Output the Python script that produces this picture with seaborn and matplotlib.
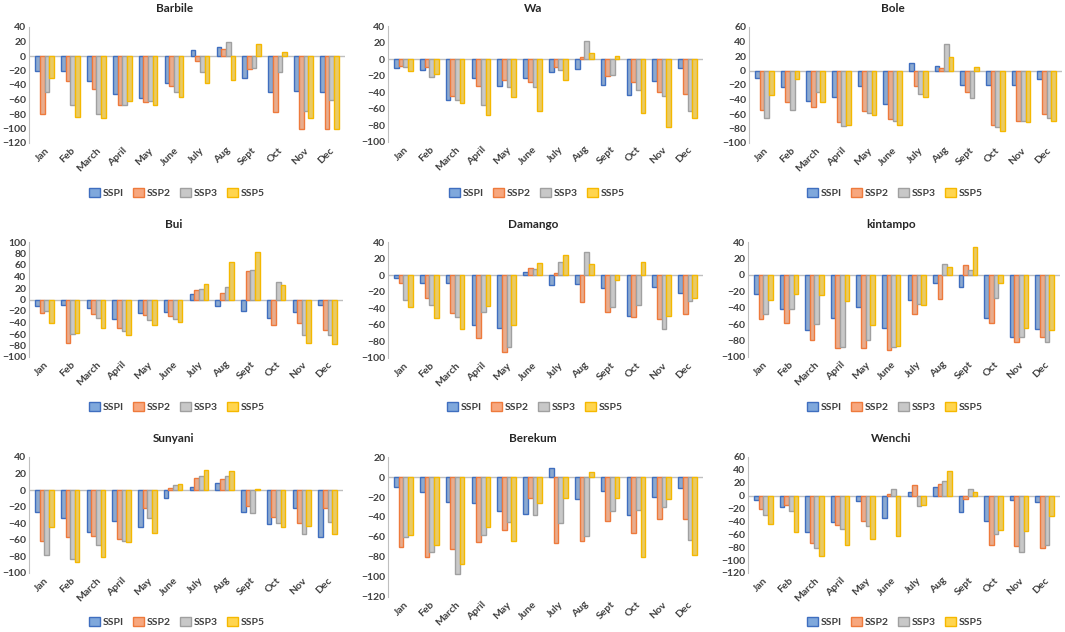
import pandas as pd
import seaborn as sns
import matplotlib.pyplot as plt
from matplotlib.patches import Patch

months = ["Jan", "Feb", "March", "April", "May", "June", "July", "Aug", "Sept", "Oct", "Nov", "Dec"]
scenarios = ["SSPI", "SSP2", "SSP3", "SSP5"]

# one row per scenario (SSPI, SSP2, SSP3, SSP5), 12 months each
barbile = [
    [-20, -20, -34, -52, -58, -37, 8, 12, -30, -50, -48, -50],
    [-80, -35, -45, -68, -64, -41, -7, 9, -18, -77, -100, -100],
    [-50, -68, -80, -68, -62, -50, -22, 20, -16, -22, -76, -60],
    [-30, -84, -85, -62, -67, -57, -37, -33, 17, 5, -86, -100],
]
wa = [
    [-11, -13, -49, -23, -32, -23, -15, -12, -31, -43, -26, -11],
    [-8, -10, -45, -32, -25, -28, -10, 3, -20, -28, -40, -42],
    [-10, -21, -49, -55, -34, -34, -13, 22, -19, -37, -44, -62],
    [-14, -18, -53, -67, -46, -62, -25, 8, 4, -65, -82, -71],
]
bole = [
    [-10, -23, -42, -37, -22, -46, 11, 6, -20, -20, -20, -12],
    [-55, -44, -51, -71, -56, -67, -22, 3, -30, -75, -70, -60],
    [-65, -55, -29, -77, -58, -69, -33, 36, -38, -78, -69, -65],
    [-34, -12, -43, -75, -62, -75, -37, 18, 5, -83, -71, -70],
]
bui = [
    [-11, -9, -14, -34, -23, -22, 9, -12, -20, -32, -21, -10],
    [-24, -75, -26, -50, -27, -28, 16, 12, 49, -45, -40, -53],
    [-20, -60, -32, -54, -36, -34, 18, 22, 51, 30, -61, -62],
    [-41, -58, -50, -62, -44, -39, 27, 65, 82, 26, -75, -77],
]
damango = [
    [-4, -10, -10, -60, -64, 4, -12, -11, -16, -49, -14, -21],
    [-10, -28, -46, -76, -93, 9, 3, -32, -44, -50, -53, -47],
    [-30, -36, -51, -45, -87, 8, 16, 28, -38, -36, -65, -31],
    [-38, -52, -65, -37, -60, 15, 24, 13, -6, 16, -49, -27],
]
kintampo = [
    [-23, -41, -67, -52, -39, -65, -30, -10, -15, -52, -76, -66],
    [-54, -59, -79, -89, -89, -91, -48, -29, 12, -59, -82, -76],
    [-48, -42, -60, -88, -79, -88, -36, 13, 6, -28, -76, -82],
    [-31, -23, -25, -32, -61, -86, -37, 10, 34, -10, -65, -67],
]
sunyani = [
    [-26, -34, -50, -37, -44, -9, 4, 9, -26, -41, -22, -56],
    [-61, -56, -55, -59, -22, 3, 15, 13, -19, -32, -40, -21],
    [-78, -83, -66, -61, -34, 6, 17, 17, -27, -40, -53, -39],
    [-45, -87, -81, -62, -52, 7, 24, 23, 1, -45, -43, -53],
]
berekum = [
    [-10, -15, -25, -26, -34, -37, 9, -22, -14, -38, -20, -11],
    [-70, -80, -72, -65, -53, -21, -66, -64, -44, -56, -42, -42],
    [-60, -75, -97, -58, -45, -38, -46, -59, -34, -33, -30, -63],
    [-58, -68, -87, -50, -64, -26, -21, 5, -21, -80, -22, -78],
]
wenchi = [
    [-7, -18, -57, -41, -8, -35, 5, 13, -25, -39, -7, -10],
    [-21, -14, -73, -46, -39, 2, 16, 18, -5, -77, -78, -81],
    [-30, -24, -81, -52, -47, 10, -16, 23, 11, -59, -87, -76],
    [-44, -56, -93, -77, -67, -62, -15, 38, 6, -54, -55, -32],
]

stations = ["Barbile", "Wa", "Bole", "Bui", "Damango", "kintampo", "Sunyani", "Berekum", "Wenchi"]
values = [barbile, wa, bole, bui, damango, kintampo, sunyani, berekum, wenchi]
ylims = [(-120, 40), (-100, 40), (-100, 60), (-100, 100), (-100, 40), (-100, 40),
         (-100, 40), (-120, 20), (-120, 60)]

fills = ["#7FA8DC", "#F7A77E", "#C8C8C8", "#FFD54F"]
edges = ["#3F6EBF", "#EE7A3C", "#A0A0A0", "#F5B800"]

sns.set_style("white")
plt.rcParams["font.family"] = ["Lato", "DejaVu Sans"]

W, H = 1065, 632
fig = plt.figure(figsize=(W / 100, H / 100), dpi=100)

# axes boxes in pixels: left, top, right, bottom
boxes = [
    (29, 27, 345, 143), (388, 26, 703, 142), (749, 27, 1062, 143),
    (29, 242, 343, 357), (388, 242, 703, 358), (748, 242, 1060, 357),
    (29, 457, 343, 573), (388, 457, 703, 597), (748, 457, 1060, 573),
]
# legend centres in pixels (Berekum's legend is cut off in the original)
leg_pos = [(177, 193), (537, 193), (895, 193),
           (177, 407), (535, 407), (895, 407),
           (177, 622), None, (895, 622)]

handles = [Patch(facecolor=fills[k], edgecolor=edges[k], label=scenarios[k]) for k in range(4)]

for i in range(9):
    l, t, r, b = boxes[i]
    ax = fig.add_axes([l / W, 1 - b / H, (r - l) / W, (b - t) / H])
    rows = []
    for s, name in enumerate(scenarios):
        for m, month in enumerate(months):
            rows.append({"Month": month, "Scenario": name, "Value": values[i][s][m]})
    df = pd.DataFrame(rows)
    sns.barplot(data=df, x="Month", y="Value", hue="Scenario", palette=fills,
                width=0.72, ax=ax, linewidth=1.0, legend=False)
    for k, cont in enumerate(ax.containers):
        for p in cont:
            p.set_edgecolor(edges[k])
    lo, hi = ylims[i]
    ax.set_ylim(lo, hi)
    ax.set_yticks(range(lo, hi + 1, 20))
    ax.set_xlim(-0.6, 11.6)
    ax.axhline(0, color="#BFBFBF", lw=1.0, zorder=0.5)
    for sp in ["top", "right", "bottom"]:
        ax.spines[sp].set_visible(False)
    ax.spines["left"].set_color("#BFBFBF")
    ax.tick_params(axis="both", length=0, labelsize=7.5, pad=2, colors="#404040")
    ax.set_xticks(range(12))
    ax.set_xticklabels(months, rotation=45, ha="right", rotation_mode="anchor", fontweight="bold")
    for lab in ax.get_yticklabels():
        lab.set_fontweight("bold")
    ax.set_xlabel("")
    ax.set_ylabel("")
    fig.text((l + r) / 2 / W - 0.012, 1 - (t - 18) / H, stations[i], ha="center", va="center",
             fontsize=8.5, fontweight="bold", color="#262626")
    if leg_pos[i] is not None:
        lx, ly = leg_pos[i]
        fig.legend(handles=handles, loc="center", bbox_to_anchor=(lx / W, 1 - ly / H), ncol=4,
                   frameon=False, handlelength=1.0, handleheight=1.0, handletextpad=0.3,
                   columnspacing=0.9, prop={"size": 7.5, "weight": "bold"}, labelcolor="#404040")

fig.savefig("out.png", dpi=100)
